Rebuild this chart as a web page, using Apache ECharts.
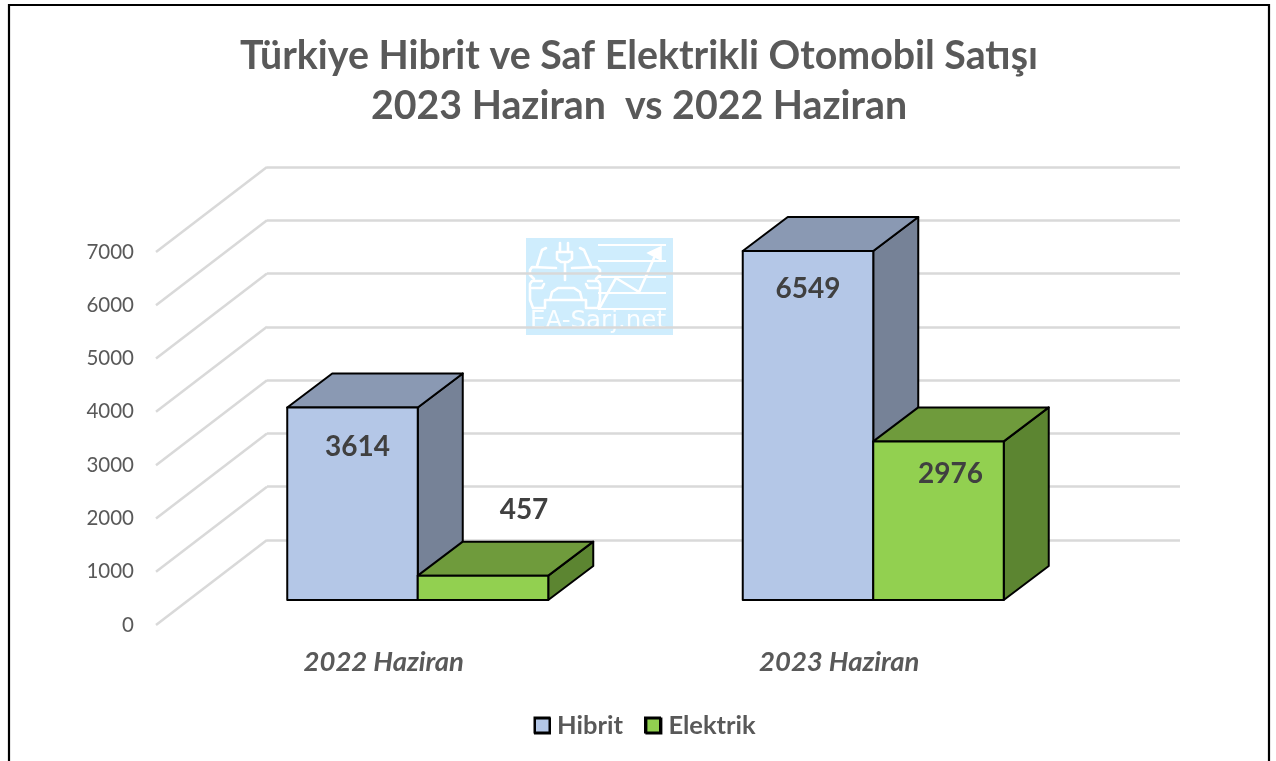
<!DOCTYPE html>
<html><head><meta charset="utf-8">
<style>html,body{margin:0;padding:0;background:#fff}#c{width:1276px;height:761px}</style>
<script src="https://cdn.jsdelivr.net/npm/echarts@6/dist/echarts.min.js"></script>
</head><body><div id="c"></div>
<script>
const titleText = 'Türkiye Hibrit ve Saf Elektrikli Otomobil Satışı\n2023 Haziran  vs 2022 Haziran';
const categories = ['2022 Haziran', '2023 Haziran'];
const hibrit = [3614, 6549];
const elektrik = [457, 2976];
const yTicks = [0, 1000, 2000, 3000, 4000, 5000, 6000, 7000];

const FONT = 'Lato, "Open Sans", sans-serif';
const WALL = { dx: 111, dy: -85 };      // floor depth from front edge to back wall
const FLOOR = { dx: 34, dy: -25 };      // where the bars stand on the floor
const DEPTH = { dx: 45, dy: -34 };      // bar depth
const BAR_SHARE = 0.2865;

function barSeries(name, values, side, colors, nudges) {
  return {
    name, type: 'custom', xAxisIndex: 0, yAxisIndex: 0, z: side < 0 ? 3 : 4,
    itemStyle: { color: colors.front, borderColor: '#000', borderWidth: 2 },
    encode: { x: 0, y: 1 }, clip: false,
    data: values.map((v, i) => [i, v]),
    renderItem(params, api) {
      const i = api.value(0), v = api.value(1);
      const top = api.coord([i, v]), base = api.coord([i, 0]);
      const w = api.size([1, 0])[0] * BAR_SHARE;
      const x0 = top[0] + FLOOR.dx + (side < 0 ? -w : 0), x1 = x0 + w;
      const yT = top[1] + FLOOR.dy, yB = base[1] + FLOOR.dy;
      const stroke = { stroke: '#000', lineWidth: 2, lineJoin: 'round' };
      const n = nudges[i];
      return { type: 'group', children: [
        { type: 'polygon', shape: { points: [[x1, yT], [x1 + DEPTH.dx, yT + DEPTH.dy], [x1 + DEPTH.dx, yB + DEPTH.dy], [x1, yB]] }, style: { fill: colors.side, ...stroke } },
        { type: 'polygon', shape: { points: [[x0, yT], [x0 + DEPTH.dx, yT + DEPTH.dy], [x1 + DEPTH.dx, yT + DEPTH.dy], [x1, yT]] }, style: { fill: colors.top, ...stroke } },
        { type: 'polygon', shape: { points: [[x0, yT], [x1, yT], [x1, yB], [x0, yB]] }, style: { fill: colors.front, ...stroke } },
        { type: 'text', z2: 10, style: { text: String(v), x: (x0 + x1) / 2 + n[0], y: yT + n[1], fill: '#404040', font: 'bold 28px ' + FONT, align: 'center', verticalAlign: 'middle' } }
      ] };
    }
  };
}

const W = '#ffffff';
const wm = (points) => ({ type: 'polyline', shape: { points }, style: { stroke: W, lineWidth: 2.6, fill: null, lineCap: 'round', lineJoin: 'round' } });
const watermark = {
  type: 'group', z: 2, silent: true, children: [
    { type: 'rect', shape: { x: 526, y: 238, width: 147, height: 97 }, style: { fill: 'rgba(196,233,253,0.82)' } },
    ...[245, 261, 277, 293, 309].map(y => ({ type: 'line', shape: { x1: 598, y1: y, x2: 666, y2: y }, style: { stroke: W, lineWidth: 1.8 } })),
    wm([[600, 307], [616, 278], [639, 292], [654, 258]]),
    { type: 'polygon', shape: { points: [[648, 253], [661, 247], [661, 260]] }, style: { fill: W, stroke: W, lineWidth: 1.5 } },
    wm([[560, 243], [560, 252]]), wm([[568, 243], [568, 252]]),
    wm([[557, 252], [572, 252], [572, 259], [568, 262], [561, 262], [557, 259], [557, 252]]),
    wm([[565, 262], [565, 280]]),
    wm([[546, 248], [542, 250], [537, 266]]), wm([[580, 248], [584, 250], [591, 266]]),
    wm([[556, 268], [532, 267], [530, 270], [530, 275], [534, 279]]),
    wm([[572, 268], [597, 267], [600, 270], [600, 275], [596, 279]]),
    wm([[542, 281], [532, 281], [530, 284], [530, 300], [533, 308], [545, 308], [545, 300], [586, 300], [586, 308], [598, 308], [600, 300], [600, 284], [598, 281], [588, 281]]),
    wm([[532, 288], [542, 288], [544, 284]]), wm([[598, 288], [588, 288], [586, 284]]),
    wm([[550, 300], [552, 292], [558, 288], [574, 288], [580, 292], [582, 300]]),
    { type: 'text', style: { text: 'EA-Sarj.net', x: 598, y: 322, fill: 'rgba(255,255,255,0.9)', font: '24.5px "DejaVu Sans", sans-serif', align: 'center', verticalAlign: 'middle' } }
  ]
};

const chart = echarts.init(document.getElementById('c'), null, { renderer: 'canvas' });
chart.setOption({
  animation: false,
  backgroundColor: '#ffffff',
  title: {
    text: titleText, left: 634, top: 26, textAlign: 'center',
    textStyle: { fontFamily: FONT, fontSize: 39.3, fontWeight: 'bold', color: '#595959', lineHeight: 50 }
  },
  legend: {
    left: 529, top: 708, itemWidth: 15, itemHeight: 15, itemGap: 22.5, icon: 'rect',
    itemStyle: { borderColor: '#000', borderWidth: 2 },
    data: ['Hibrit', 'Elektrik'],
    textStyle: { fontFamily: FONT, fontSize: 25.5, fontWeight: 'bold', color: '#595959', padding: [0, 0, 0, 2] }
  },
  grid: [
    { left: 156, top: 252, width: 911, height: 373 },
    { left: 267, top: 167, width: 913, height: 373 }
  ],
  xAxis: [
    { type: 'category', gridIndex: 0, data: categories, axisLine: { show: false }, axisTick: { show: false },
      axisLabel: { margin: 24, fontFamily: FONT, fontSize: 27.5, fontWeight: 'bold', fontStyle: 'italic', color: '#595959' } },
    { type: 'value', gridIndex: 1, min: 0, max: 1, show: false }
  ],
  yAxis: [
    { type: 'value', gridIndex: 0, min: 0, max: 7000, interval: 1000, axisLine: { show: false }, axisTick: { show: false }, splitLine: { show: false },
      axisLabel: { margin: 22, fontFamily: FONT, fontSize: 20.5, color: '#595959', formatter: v => String(v) } },
    { type: 'value', gridIndex: 1, min: 0, max: 7000, interval: 1000, axisLine: { show: false }, axisTick: { show: false }, axisLabel: { show: false },
      splitLine: { show: true, lineStyle: { color: '#d9d9d9', width: 2.5 } } }
  ],
  graphic: [
    { type: 'rect', z: 1, silent: true, shape: { x: 9, y: 5, width: 1260, height: 800 }, style: { fill: null, stroke: '#000', lineWidth: 2.2 } },
    { type: 'rect', z: 10, silent: true, shape: { x: 534.5, y: 717.5, width: 15, height: 15 }, style: { fill: null, stroke: '#000', lineWidth: 2 } },
    { type: 'rect', z: 10, silent: true, shape: { x: 645, y: 717.5, width: 15, height: 15 }, style: { fill: null, stroke: '#000', lineWidth: 2 } },
    watermark
  ],
  series: [
    { type: 'custom', xAxisIndex: 0, yAxisIndex: 0, z: 1, silent: true, clip: false, encode: { y: 0 },
      data: yTicks.map(v => [v]),
      renderItem(params, api) {
        const y = api.coord([0, api.value(0)])[1], x = params.coordSys.x;
        return { type: 'line', shape: { x1: x, y1: y, x2: x + WALL.dx, y2: y + WALL.dy }, style: { stroke: '#d9d9d9', lineWidth: 2.5 } };
      } },
    barSeries('Hibrit', hibrit, -1, { front: '#b4c7e7', top: '#8a99b3', side: '#768297' }, [[5, 40], [0, 38]]),
    barSeries('Elektrik', elektrik, 1, { front: '#92d050', top: '#6f9b3c', side: '#5c8531' }, [[41, -66], [12, 33]])
  ]
});
</script></body></html>
